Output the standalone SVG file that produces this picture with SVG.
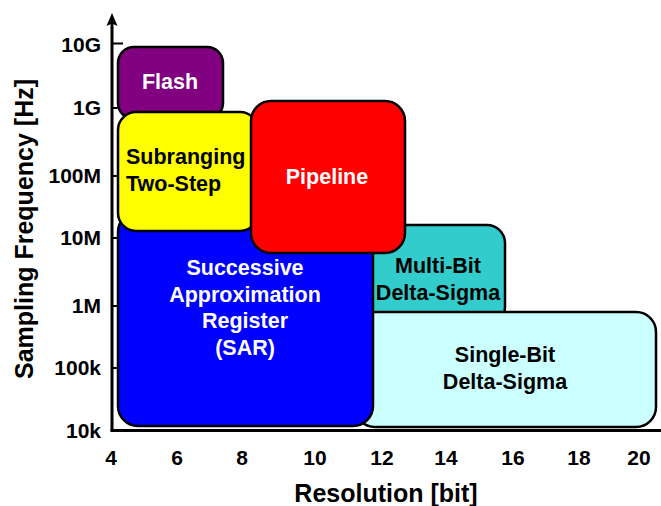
<svg xmlns="http://www.w3.org/2000/svg" width="661" height="506" viewBox="0 0 661 506">
<style>
text{font-family:"Liberation Sans",Arial,sans-serif;font-weight:bold}
.tk{font-size:21px;text-anchor:end}
.xt{font-size:21px;text-anchor:middle}
.ttl{font-size:25px;text-anchor:middle}
.lb{font-size:21.5px;text-anchor:middle}
.box{stroke:#000;stroke-width:2.5}
.ax{stroke:#000;stroke-width:3;fill:none}
</style>
<rect width="661" height="506" fill="#fff"/>
<g id="axes">
<line class="ax" x1="112" y1="431" x2="112" y2="22"/>
<path d="M112,13 L106.5,26 L112,23.5 L117.5,26 Z" fill="#000"/>
<line class="ax" x1="110.5" y1="430.5" x2="661" y2="430.5"/>
<g stroke="#000" stroke-width="2">
<line x1="112" y1="43.5" x2="123" y2="43.5"/>
<line x1="112" y1="108" x2="123" y2="108"/>
<line x1="112" y1="176" x2="123" y2="176"/>
<line x1="112" y1="238" x2="123" y2="238"/>
<line x1="112" y1="306" x2="123" y2="306"/>
<line x1="112" y1="368" x2="123" y2="368"/>
</g>
<text class="tk" x="101" y="52">10G</text>
<text class="tk" x="101" y="115">1G</text>
<text class="tk" x="101" y="183">100M</text>
<text class="tk" x="101" y="245">10M</text>
<text class="tk" x="101" y="313">1M</text>
<text class="tk" x="101" y="375">100k</text>
<text class="tk" x="101" y="438">10k</text>
<text class="xt" x="111" y="465">4</text>
<text class="xt" x="177" y="465">6</text>
<text class="xt" x="242" y="465">8</text>
<text class="xt" x="315" y="465">10</text>
<text class="xt" x="382" y="465">12</text>
<text class="xt" x="446" y="465">14</text>
<text class="xt" x="513" y="465">16</text>
<text class="xt" x="579" y="465">18</text>
<text class="xt" x="639" y="465">20</text>
<text class="ttl" x="386" y="502">Resolution [bit]</text>
<text class="ttl" transform="translate(33,229) rotate(-90)">Sampling Frequency [Hz]</text>
</g>
<g id="connectors"/>
<g id="flash">
<rect class="box" x="118" y="47" width="105" height="72" rx="16" fill="#800080"/>
<text class="lb" x="170" y="89" fill="#fff">Flash</text>
</g>
<g id="multibit">
<rect class="box" x="360" y="225" width="145" height="100" rx="18" fill="#33CCCC"/>
<text class="lb" x="438" y="273">Multi-Bit</text>
<text class="lb" x="438" y="300">Delta-Sigma</text>
</g>
<g id="singlebit">
<rect class="box" x="355" y="312" width="301" height="115" rx="20" fill="#CCFFFF"/>
<text class="lb" x="505" y="362">Single-Bit</text>
<text class="lb" x="505" y="389">Delta-Sigma</text>
</g>
<g id="sar">
<rect class="box" x="118" y="212" width="255" height="214" rx="20" fill="#0000FF"/>
<text class="lb" x="245" y="275" fill="#fff">Successive</text>
<text class="lb" x="245" y="302" fill="#fff">Approximation</text>
<text class="lb" x="245" y="328" fill="#fff">Register</text>
<text class="lb" x="245" y="355" fill="#fff">(SAR)</text>
</g>
<g id="subranging">
<rect class="box" x="118" y="112" width="140" height="119" rx="18" fill="#FFFF00"/>
<text class="lb" x="126" y="164" style="text-anchor:start">Subranging</text>
<text class="lb" x="126" y="191" style="text-anchor:start">Two-Step</text>
</g>
<g id="pipeline">
<rect class="box" x="251" y="101" width="154" height="152" rx="20" fill="#FF0000"/>
<text class="lb" x="327" y="184" fill="#fff">Pipeline</text>
</g>
</svg>
